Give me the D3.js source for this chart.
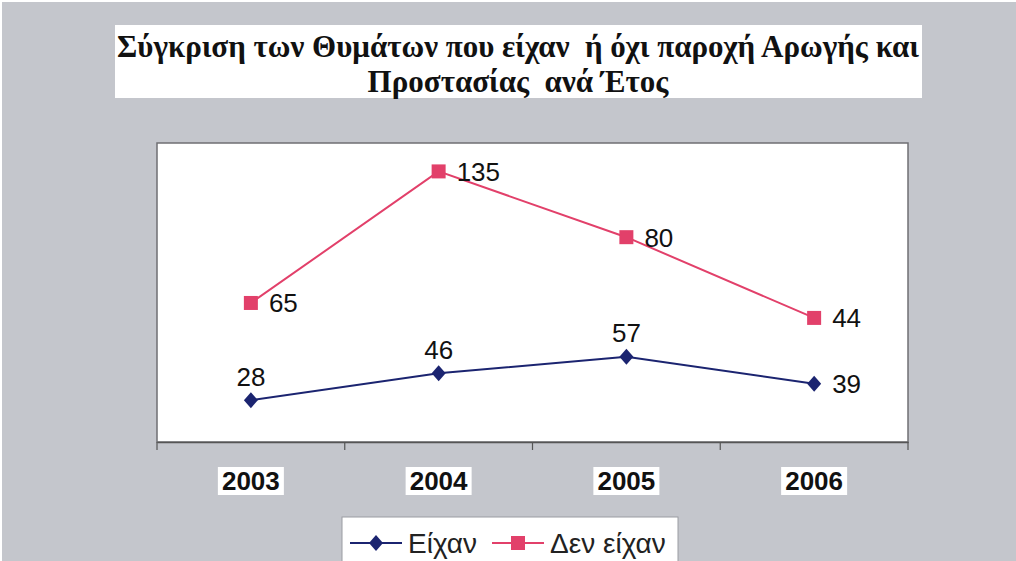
<!DOCTYPE html>
<html lang="el">
<head>
<meta charset="UTF-8">
<title>Σύγκριση των Θυμάτων</title>
<script src="https://cdn.jsdelivr.net/npm/d3@7/dist/d3.min.js"></script>
<style>
    body { margin: 0; background: #fff; }
</style>
</head>
<body>
<div id="chart"></div>
<script>
    // data
    const years = ["2003", "2004", "2005", "2006"];
    const eixan = [28, 46, 57, 39];
    const denEixan = [65, 135, 80, 44];
    const seriesNames = ["Είχαν", "Δεν είχαν"];
    const titleLines = ["Σύγκριση των Θυμάτων που είχαν  ή όχι παροχή Αρωγής και", "Προστασίας  ανά Έτος"];

    const width = 1016, height = 561;
    const plot = {left: 157, top: 143, right: 908, bottom: 442};
    const colors = ["#1b2470", "#e2406a"];
    // where each series puts its value labels
    const labelPos = [["above", "above", "above", "right"], ["right", "right", "right", "right"]];

    const svg = d3.select("#chart").append("svg")
        .attr("width", width)
        .attr("height", height);

    // background
    svg.append("rect")
        .attr("x", 2).attr("y", 2)
        .attr("width", width - 2).attr("height", height - 2)
        .attr("fill", "#c4c6cc");

    // title
    svg.append("rect")
        .attr("x", 115).attr("y", 25)
        .attr("width", 807).attr("height", 73)
        .attr("fill", "#fff");
    svg.append("g").selectAll("text")
        .data(titleLines)
        .join("text")
        .attr("x", 518)
        .attr("y", (d, i) => 57 + i * 35)
        .attr("text-anchor", "middle")
        .style("font-family", "'Liberation Serif', 'Times New Roman', serif")
        .style("font-weight", "bold")
        .style("font-size", "31px")
        .style("white-space", "pre")
        .attr("fill", "#111")
        .text(d => d);

    // plot area
    svg.append("rect")
        .attr("x", plot.left).attr("y", plot.top)
        .attr("width", plot.right - plot.left).attr("height", plot.bottom - plot.top)
        .attr("fill", "#fff")
        .attr("stroke", "#6f6f73")
        .attr("stroke-width", 1.5);

    const x = d3.scaleBand()
        .domain(years)
        .range([plot.left, plot.right]);
    const y = d3.scaleLinear()
        .domain([0, 200])
        .range([plot.bottom, plot.top]);

    // stacked lines
    const table = years.map((yr, i) => ({year: yr, a: eixan[i], b: denEixan[i]}));
    const stacked = d3.stack().keys(["a", "b"])(table);

    // x axis
    const xAxis = svg.append("g")
        .attr("transform", "translate(0," + plot.bottom + ")")
        .call(d3.axisBottom(x).tickSize(0).tickFormat(""));
    xAxis.select(".domain").attr("stroke", "#555").attr("stroke-width", 1.5);
    const bounds = years.map(d => x(d)).concat([plot.right]);
    svg.append("g").selectAll("line")
        .data(bounds)
        .join("line")
        .attr("x1", d => d).attr("x2", d => d)
        .attr("y1", plot.bottom).attr("y2", plot.bottom + 8)
        .attr("stroke", "#555")
        .attr("stroke-width", 1.2);

    const yearLabels = svg.append("g").selectAll("g")
        .data(years)
        .join("g")
        .attr("transform", d => "translate(" + (x(d) + x.bandwidth() / 2) + ",481)");
    yearLabels.append("rect")
        .attr("x", -33).attr("y", -14)
        .attr("width", 66).attr("height", 28)
        .attr("fill", "#fff");
    yearLabels.append("text")
        .attr("text-anchor", "middle")
        .attr("dy", "0.36em")
        .style("font-family", "'Liberation Sans', Arial, sans-serif")
        .style("font-weight", "bold")
        .style("font-size", "26px")
        .attr("fill", "#111")
        .text(d => d);

    const line = d3.line()
        .x(d => x(d.data.year) + x.bandwidth() / 2)
        .y(d => y(d[1]));

    stacked.forEach((layer, si) => {
        svg.append("path")
            .datum(layer)
            .attr("fill", "none")
            .attr("stroke", colors[si])
            .attr("stroke-width", 2)
            .attr("d", line);

        const pts = svg.append("g").selectAll("g")
            .data(layer)
            .join("g")
            .attr("transform", d => "translate(" + (x(d.data.year) + x.bandwidth() / 2) + "," + y(d[1]) + ")");
        if (si === 0) {
            pts.append("path")
                .attr("d", "M0,-8L7,0L0,8L-7,0Z")
                .attr("fill", colors[si]);
        } else {
            pts.append("rect")
                .attr("x", -7).attr("y", -7)
                .attr("width", 14).attr("height", 14)
                .attr("fill", colors[si]);
        }
        pts.append("text")
            .attr("x", (d, i) => labelPos[si][i] === "right" ? 18 : 0)
            .attr("y", (d, i) => labelPos[si][i] === "right" ? 0 : -24)
            .attr("dy", "0.36em")
            .attr("text-anchor", (d, i) => labelPos[si][i] === "right" ? "start" : "middle")
            .style("font-family", "'Liberation Sans', Arial, sans-serif")
            .style("font-size", "26px")
            .attr("fill", "#111")
            .text(d => d[1] - d[0]);
    });

    // legend
    const legend = svg.append("g");
    legend.append("rect")
        .attr("x", 342).attr("y", 517)
        .attr("width", 336).attr("height", 50)
        .attr("fill", "#fff")
        .attr("stroke", "#9a9ca2")
        .attr("stroke-width", 1);
    const items = legend.selectAll("g")
        .data(seriesNames)
        .join("g")
        .attr("transform", (d, i) => "translate(" + (i === 0 ? 350 : 492) + ",543)");
    items.append("line")
        .attr("x1", 0).attr("x2", 52)
        .attr("stroke", (d, i) => colors[i])
        .attr("stroke-width", 2);
    items.each(function (d, i) {
        const g = d3.select(this);
        if (i === 0) {
            g.append("path").attr("d", "M26,-8L33,0L26,8L19,0Z").attr("fill", colors[i]);
        } else {
            g.append("rect").attr("x", 19).attr("y", -7).attr("width", 14).attr("height", 14).attr("fill", colors[i]);
        }
    });
    items.append("text")
        .attr("x", 58)
        .attr("dy", "0.36em")
        .style("font-family", "'Liberation Sans', Arial, sans-serif")
        .style("font-size", "28px")
        .attr("fill", "#222")
        .text(d => d);
</script>
</body>
</html>
